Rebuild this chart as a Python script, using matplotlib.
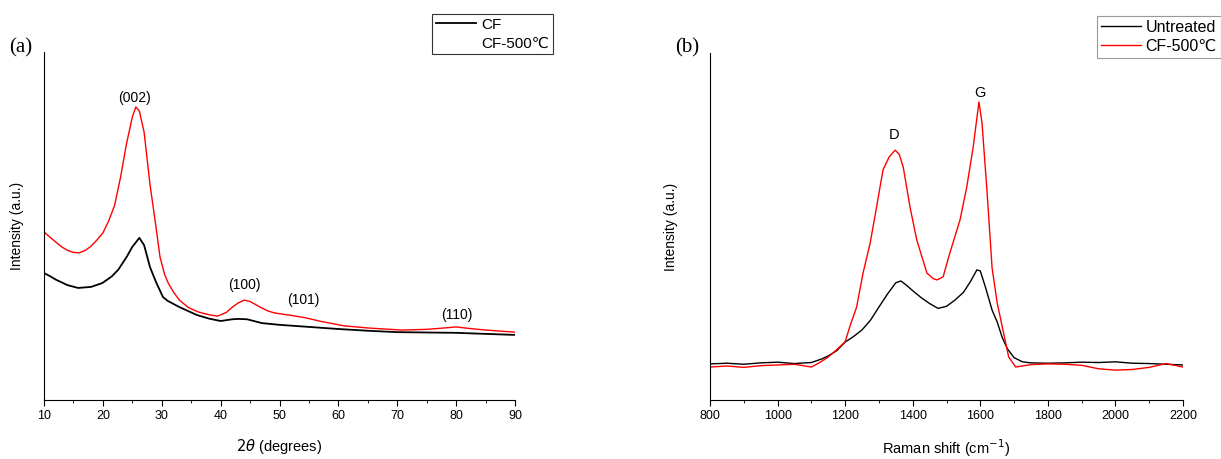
import numpy as np
import matplotlib.pyplot as plt
from matplotlib.ticker import MultipleLocator

plt.rcParams['font.family'] = ['Liberation Sans', 'DejaVu Sans']
plt.rcParams['mathtext.fontset'] = 'dejavusans'

# (a) XRD patterns, intensity in arbitrary units
xrd_theta_cf = [10, 11, 12, 13, 14, 15.8, 18, 19.9, 21.5, 22.6, 24, 25, 26.2, 27, 28, 29,
                30.2, 31, 33, 36, 38, 40, 42, 43, 44.5, 47, 50, 55, 60, 65, 70, 75, 80, 85, 90]
xrd_cf = [36.5, 35.6, 34.6, 33.8, 33.0, 32.2, 32.5, 33.6, 35.5, 37.4, 41.0, 44.0, 46.6, 44.5,
          38.2, 34.0, 29.6, 28.5, 26.7, 24.4, 23.4, 22.7, 23.2, 23.3, 23.2, 22.1, 21.6, 21.0,
          20.4, 19.9, 19.5, 19.4, 19.3, 19.0, 18.7]
xrd_theta_500 = [10, 11, 12, 13, 14, 15, 16, 17, 18, 19, 20, 21, 22, 23, 24, 25, 25.6, 26.2,
                 27, 28, 29, 29.7, 30.5, 31.1, 32, 33, 34.5, 36.2, 38, 39.5, 41, 42, 43, 44, 45,
                 46.7, 48, 49.2, 52, 54.5, 57, 61, 65, 70.7, 75, 78, 80, 82, 85, 90]
xrd_500 = [48.3, 46.8, 45.4, 44.0, 43.0, 42.4, 42.3, 43.0, 44.2, 46.0, 48.0, 51.5, 56.0, 64.0,
           73.5, 81.3, 84.2, 83.0, 77.0, 62.0, 50.0, 41.1, 36.0, 33.6, 31.0, 28.7, 26.6, 25.3,
           24.5, 24.1, 25.2, 26.7, 27.9, 28.7, 28.3, 26.7, 25.6, 25.0, 24.3, 23.6, 22.6, 21.3,
           20.7, 20.1, 20.3, 20.7, 21.0, 20.6, 20.1, 19.5]
xrd_peaks = ['(002)', '(100)', '(101)', '(110)']
xrd_peak_x = [25.4, 44.0, 54.1, 80.2]
xrd_peak_y = [86.8, 33.0, 28.7, 24.4]

# (b) Raman spectra
raman_x_un = [800, 850, 900, 950, 1000, 1050, 1100, 1130, 1150, 1175, 1200, 1225, 1250, 1275,
              1300, 1325, 1350, 1365, 1380, 1400, 1425, 1450, 1475, 1500, 1525, 1550, 1570,
              1590, 1600, 1615, 1635, 1650, 1665, 1680, 1700, 1725, 1750, 1800, 1850, 1900,
              1950, 2000, 2050, 2100, 2150, 2200]
raman_un = [10.4, 10.6, 10.3, 10.7, 10.9, 10.5, 10.8, 11.8, 12.7, 14.2, 16.7, 18.3, 20.2, 23.0,
            26.8, 30.5, 33.8, 34.3, 33.2, 31.5, 29.5, 27.8, 26.4, 27.0, 28.8, 31.0, 34.0, 37.5,
            37.2, 32.6, 25.9, 22.5, 18.0, 14.8, 12.2, 11.0, 10.7, 10.6, 10.7, 10.9, 10.8, 11.0,
            10.6, 10.5, 10.3, 10.1]
raman_x_500 = [800, 850, 900, 950, 1000, 1050, 1100, 1125, 1150, 1175, 1200, 1215, 1234, 1253,
               1274, 1293, 1312, 1330, 1348, 1360, 1372, 1392, 1412, 1442, 1460, 1472, 1490,
               1510, 1540, 1560, 1579, 1596, 1605, 1620, 1635, 1650, 1667, 1684, 1705, 1750,
               1800, 1850, 1900, 1950, 2000, 2050, 2100, 2150, 2200]
raman_500 = [9.5, 9.8, 9.4, 9.9, 10.1, 10.3, 9.5, 10.8, 12.4, 14.5, 16.8, 21.5, 26.8, 36.6,
             45.2, 55.6, 66.3, 70.0, 72.0, 70.8, 67.1, 55.6, 46.1, 36.6, 35.0, 34.6, 35.5, 42.4,
             51.9, 61.4, 72.9, 85.9, 80.0, 60.0, 38.0, 28.0, 20.2, 12.4, 9.5, 10.2, 10.4, 10.3,
             10.0, 9.0, 8.6, 8.8, 9.4, 10.5, 9.5]
raman_bands = ['D', 'G']
raman_band_x = [1344, 1598]
raman_band_y = [76.4, 88.5]

fig = plt.figure(figsize=(12.21, 4.59), dpi=100)
W, H = 1221, 459
axa = fig.add_axes([44 / W, 59 / H, 471 / W, 348 / H])
axb = fig.add_axes([710 / W, 59 / H, 473 / W, 347 / H])

for ax in (axa, axb):
    ax.spines['top'].set_visible(False)
    ax.spines['right'].set_visible(False)
    ax.set_ylim(0, 100)
    ax.set_yticks([])
    ax.tick_params(axis='x', which='major', direction='out', length=4, labelsize=9, pad=3)
    ax.tick_params(axis='x', which='minor', direction='out', length=2.5)
    ax.set_ylabel('Intensity (a.u.)', fontsize=10)

# panel (a)
axa.plot(xrd_theta_cf, xrd_cf, color='black', lw=1.3, label='CF')
axa.plot(xrd_theta_500, xrd_500, color='#ff0000', lw=1.0, label='CF-500\u2103')
axa.set_xlim(10, 90)
axa.xaxis.set_major_locator(MultipleLocator(10))
axa.xaxis.set_minor_locator(MultipleLocator(5))
axa.set_xlabel(r'$2\theta$ (degrees)', fontsize=10.5)
axa.xaxis.set_label_coords(0.5, -0.105)
axa.yaxis.set_label_coords(-0.042, 0.5)
for t, x, y in zip(xrd_peaks, xrd_peak_x, xrd_peak_y):
    axa.text(x, y, t, ha='center', va='center', fontsize=10)

# panel (b)
axb.plot(raman_x_un, raman_un, color='black', lw=1.0, label='Untreated')
axb.plot(raman_x_500, raman_500, color='#ff0000', lw=1.0, label='CF-500\u2103')
axb.set_xlim(800, 2200)
axb.xaxis.set_major_locator(MultipleLocator(200))
axb.xaxis.set_minor_locator(MultipleLocator(100))
axb.set_xlabel('Raman shift (cm$^{-1}$)', fontsize=10.5)
axb.xaxis.set_label_coords(0.5, -0.108)
axb.yaxis.set_label_coords(-0.068, 0.5)
for t, x, y in zip(raman_bands, raman_band_x, raman_band_y):
    axb.text(x, y, t, ha='center', va='center', fontsize=10.5)

# legends
lega = fig.legend(*axa.get_legend_handles_labels(), loc='upper left',
                  bbox_to_anchor=(432 / W, 1 - 14 / H), fontsize=11, frameon=True,
                  fancybox=False, edgecolor='black', borderpad=0.25, handlelength=2.6,
                  handletextpad=0.4, labelspacing=0.3, borderaxespad=0)
lega.get_frame().set_linewidth(0.8)
lega.legend_handles[1].set_visible(False)

legb = fig.legend(*axb.get_legend_handles_labels(), loc='upper left',
                  bbox_to_anchor=(1097 / W, 1 - 16 / H), fontsize=11.5, frameon=True,
                  fancybox=False, edgecolor='gray', borderpad=0.25, handlelength=2.5,
                  handletextpad=0.3, labelspacing=0.25, borderaxespad=0)
legb.get_frame().set_linewidth(0.8)

fig.text(21 / W, 1 - 48 / H, '(a)', family='Liberation Serif', fontsize=15,
         ha='center', va='center')
fig.text(687 / W, 1 - 48 / H, '(b)', family='Liberation Serif', fontsize=15,
         ha='center', va='center')

fig.savefig('out.png', dpi=100)
